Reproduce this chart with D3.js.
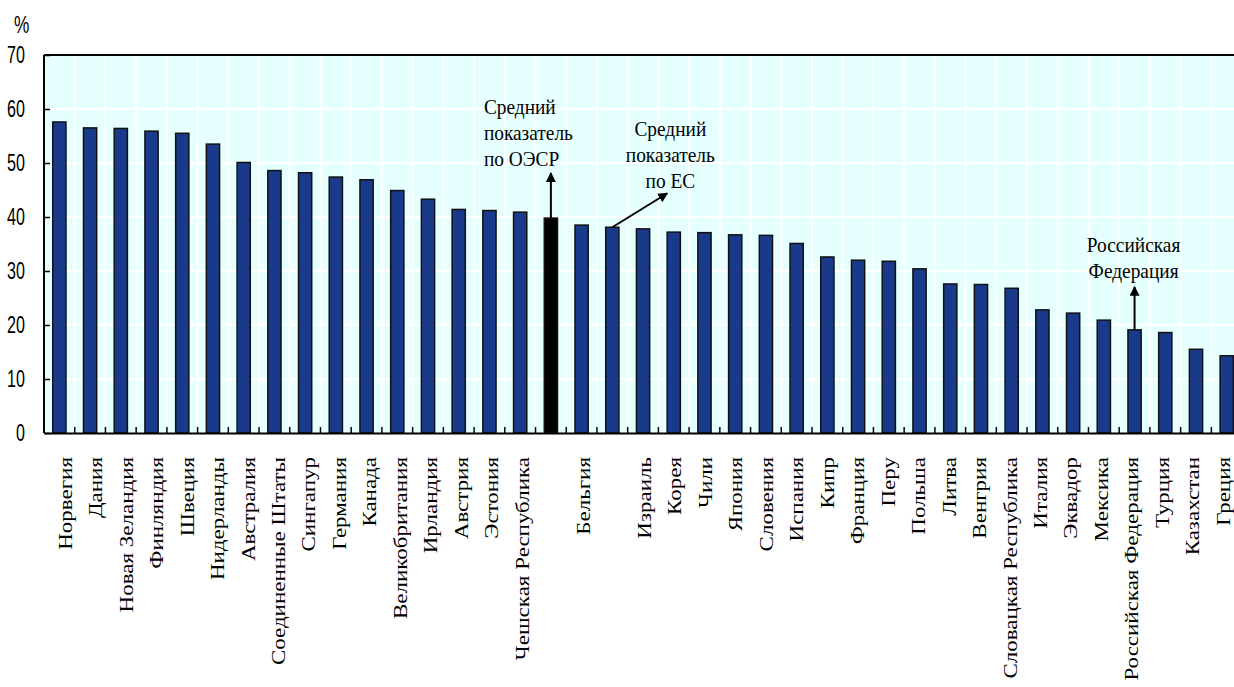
<!DOCTYPE html>
<html>
<head>
<meta charset="utf-8">
<script src="https://cdn.jsdelivr.net/npm/d3@7"></script>
<style>
  body { margin: 0; background: #fff; }
  svg { display: block; }
</style>
</head>
<body>
<script>
// countries, in the order of the chart (two averages inside the list)
var categories = ["Норвегия", "Дания", "Новая Зеландия", "Финляндия", "Швеция", "Нидерланды",
  "Австралия", "Соединенные Штаты", "Сингапур", "Германия", "Канада", "Великобритания",
  "Ирландия", "Австрия", "Эстония", "Чешская Республика", "ОЭСР", "Бельгия", "ЕС",
  "Израиль", "Корея", "Чили", "Япония", "Словения", "Испания", "Кипр", "Франция", "Перу",
  "Польша", "Литва", "Венгрия", "Словацкая Республика", "Италия", "Эквадор", "Мексика",
  "Российская Федерация", "Турция", "Казахстан", "Греция"];

var values = [57.6, 56.5, 56.4, 55.9, 55.5, 53.5, 50.1, 48.6, 48.2, 47.4, 46.9, 44.9,
  43.3, 41.4, 41.2, 40.9, 39.8, 38.5, 38.1, 37.8, 37.2, 37.1, 36.7, 36.6, 35.1, 32.6,
  32.0, 31.8, 30.4, 27.6, 27.5, 26.8, 22.8, 22.2, 20.9, 19.1, 18.6, 15.5, 14.3];

// axis labels (averages are not labelled on the axis)
var tickLabels = categories.map(function(c){
  return (c == "ОЭСР" || c == "ЕС") ? "" : c;
});

var yTicks = [0, 10, 20, 30, 40, 50, 60, 70];

var notes = [
  {key: "ОЭСР", lines: ["Средний", "показатель", "по ОЭСР"]},
  {key: "ЕС", lines: ["Средний", "показатель", "по ЕС"]},
  {key: "Российская Федерация", lines: ["Российская", "Федерация"]}
];

var width = 1234, height = 687;
var plotLeft = 44, plotTop = 55, plotBottom = 433;
var step = 30.72;
var plotRight = plotLeft + step * categories.length;

var svg = d3.select("body").append("svg")
  .attr("width", width)
  .attr("height", height);

var x = d3.scaleBand()
  .domain(categories)
  .range([plotLeft, plotRight])
  .paddingInner(0.57)
  .paddingOuter(0.285);

var y = d3.scaleLinear()
  .domain([0, 70])
  .range([plotBottom, plotTop]);

function edge(d) {
  return x(d) - x.step() * x.paddingInner() / 2 + x.step();
}

// plot background
svg.append("rect")
  .attr("x", plotLeft).attr("y", plotTop)
  .attr("width", plotRight - plotLeft).attr("height", plotBottom - plotTop)
  .attr("fill", "#e6ffff");

// white grid
svg.selectAll(".hgrid")
  .data(yTicks.slice(1, -1))
  .enter().append("line")
  .attr("x1", plotLeft).attr("x2", plotRight)
  .attr("y1", function(d){ return y(d); })
  .attr("y2", function(d){ return y(d); })
  .attr("stroke", "#fff").attr("stroke-width", 2);

svg.selectAll(".vgrid")
  .data(categories)
  .enter().append("line")
  .attr("x1", edge).attr("x2", edge)
  .attr("y1", plotTop).attr("y2", plotBottom)
  .attr("stroke", "#fff").attr("stroke-width", 2);

// bars
svg.selectAll(".bar")
  .data(categories)
  .enter().append("rect")
  .attr("x", function(d){ return x(d); })
  .attr("width", x.bandwidth())
  .attr("y", function(d, i){ return y(values[i]); })
  .attr("height", function(d, i){ return plotBottom - y(values[i]); })
  .attr("fill", function(d){ return d == "ОЭСР" ? "#000" : "#19398a"; })
  .attr("stroke", "#111")
  .attr("stroke-width", 1.5);

// small ticks between bars
svg.selectAll(".xtick")
  .data(categories)
  .enter().append("line")
  .attr("x1", edge).attr("x2", edge)
  .attr("y1", plotBottom - 6).attr("y2", plotBottom)
  .attr("stroke", "#000").attr("stroke-width", 1.5);

// frame lines
svg.append("line")
  .attr("x1", plotLeft).attr("x2", plotRight).attr("y1", plotTop).attr("y2", plotTop)
  .attr("stroke", "#000").attr("stroke-width", 2);
svg.append("line")
  .attr("x1", plotLeft).attr("x2", plotLeft).attr("y1", plotTop).attr("y2", plotBottom)
  .attr("stroke", "#000").attr("stroke-width", 2);

// x axis
var xAxis = d3.axisBottom(x)
  .tickSize(0)
  .tickFormat(function(d, i){ return tickLabels[i]; });

var gx = svg.append("g")
  .attr("class", "x axis")
  .attr("transform", "translate(0," + plotBottom + ")")
  .call(xAxis);

gx.select(".domain").attr("stroke", "#000").attr("stroke-width", 2);
// labels sit slightly narrower than the bars in the original
gx.selectAll("text")
  .attr("y", null)
  .attr("dy", "0.35em")
  .attr("text-anchor", "end")
  .attr("transform", function(d, i){
    return "translate(" + (6 - 0.24 * i) + ",24) rotate(-90) scale(1,0.78)";
  })
  .style("font-family", "'Liberation Serif', 'Times New Roman', serif")
  .style("font-size", "23px")
  .attr("fill", "#000");

// y axis
var yAxis = d3.axisLeft(y)
  .tickValues(yTicks)
  .tickSizeInner(-6)
  .tickSizeOuter(0)
  .tickPadding(0);

var gy = svg.append("g")
  .attr("class", "y axis")
  .attr("transform", "translate(" + plotLeft + ",0)")
  .call(yAxis);

gy.select(".domain").remove();
gy.selectAll("line").attr("stroke", "#000").attr("stroke-width", 1.5);
gy.selectAll("text")
  .attr("x", null)
  .attr("dy", "0.33em")
  .attr("transform", "translate(-19,0) scale(0.7,1)")
  .style("font-family", "'Liberation Sans', Arial, sans-serif")
  .style("font-size", "23px")
  .attr("fill", "#000");

svg.append("text")
  .attr("transform", "translate(14,33) scale(0.72,1)")
  .style("font-family", "'Liberation Sans', Arial, sans-serif")
  .style("font-size", "24px")
  .text("%");

// annotations with arrows
var defs = svg.append("defs");
defs.append("marker")
  .attr("id", "head")
  .attr("viewBox", "0 0 10 10")
  .attr("refX", 9).attr("refY", 5)
  .attr("markerWidth", 5).attr("markerHeight", 5)
  .attr("orient", "auto")
  .append("path")
  .attr("d", "M0,0 L10,5 L0,10 z")
  .attr("fill", "#000");

function note(key, dx, dy, tx, lastLine, anchor) {
  var i = categories.indexOf(key);
  var cx = x(key) + x.bandwidth() / 2;
  var cy = y(values[i]);
  svg.append("line")
    .attr("x1", cx).attr("y1", cy)
    .attr("x2", cx + dx).attr("y2", cy + dy)
    .attr("stroke", "#000").attr("stroke-width", 2)
    .attr("marker-end", "url(#head)");
  var n = notes.filter(function(d){ return d.key == key; })[0];
  var t = svg.append("g")
    .attr("transform", "translate(" + (cx + tx) + "," + (cy + lastLine) + ")");
  t.selectAll("text")
    .data(n.lines)
    .enter().append("text")
    .attr("transform", function(d, j){
      return "translate(0," + (j - n.lines.length + 1) * 26 + ") scale(0.88,1)";
    })
    .attr("text-anchor", anchor)
    .style("font-family", "'Liberation Serif', 'Times New Roman', serif")
    .style("font-size", "22px")
    .text(function(d){ return d; });
}

note("ОЭСР", 0, -45, -67, -52, "start");
note("ЕС", 55, -34, 58, -39, "middle");
note("Российская Федерация", 0, -43, -1, -52, "middle");
</script>
</body>
</html>
